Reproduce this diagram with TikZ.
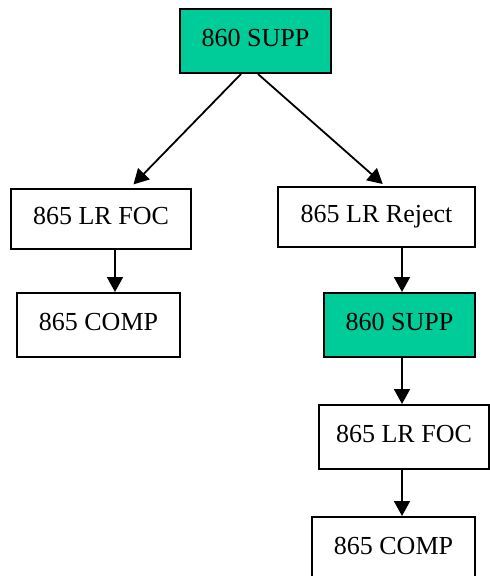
\documentclass[tikz,border=0pt]{standalone}
\usepackage{fontspec}
\setmainfont{Liberation Serif}
\usetikzlibrary{arrows.meta,calc}
\definecolor{suppgreen}{RGB}{0,204,153}
\begin{document}
\begin{tikzpicture}[x=1pt,y=-1pt,
  box/.style={draw=black,line width=2pt,fill=white,inner sep=0pt,text height=14pt,text depth=4pt,font=\fontsize{26}{30}\selectfont},
  gbox/.style={box,fill=suppgreen},
  arr/.style={line width=1.8pt,-{Triangle[length=15pt,width=16pt]}}]
\useasboundingbox (0,0) rectangle (490,576);
\clip (0,0) rectangle (490,576);
\node[gbox,minimum width=151pt,minimum height=64pt] (top) at (255.5,41) {860 SUPP};
\node[box,minimum width=180pt,minimum height=60pt] (lfoc) at (101,219) {865 LR FOC};
\node[box,minimum width=197pt,minimum height=60pt] (rej) at (376.5,217) {865 LR Reject};
\node[box,minimum width=163pt,minimum height=64pt] (lcomp) at (98.5,325) {865 COMP};
\node[gbox,minimum width=151pt,minimum height=64pt] (supp) at (399.5,325) {860 SUPP};
\node[box,minimum width=170pt,minimum height=64pt] (rfoc) at (404,437) {865 LR FOC};
\node[box,minimum width=163pt,minimum height=64pt] (rcomp) at (393.5,549) {865 COMP};
\draw[arr,shorten >=5pt] ([xshift=-14.5pt]top.south) -- ([xshift=29pt]lfoc.north);
\draw[arr,shorten >=3pt] ([xshift=2.5pt]top.south) -- ([xshift=8.5pt]rej.north);
\draw[arr] ([xshift=14pt]lfoc.south) -- ([xshift=14pt]lfoc.south |- lcomp.north);
\draw[arr] ([xshift=25.5pt]rej.south) -- ([xshift=25.5pt]rej.south |- supp.north);
\draw[arr] ([xshift=2.5pt]supp.south) -- ([xshift=2.5pt]supp.south |- rfoc.north);
\draw[arr] ([xshift=-2pt]rfoc.south) -- ([xshift=-2pt]rfoc.south |- rcomp.north);
\end{tikzpicture}
\end{document}
